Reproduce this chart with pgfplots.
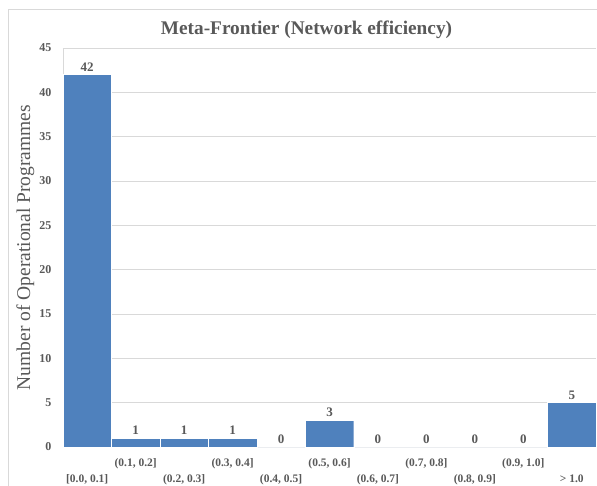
\documentclass[border=0pt]{standalone}
\usepackage{pgfplots}
\pgfplotsset{compat=1.18}
\usepackage{fontspec}
\setmainfont{Liberation Serif}
\definecolor{barblue}{RGB}{79,129,189}
\definecolor{txtgray}{RGB}{89,89,89}
\definecolor{gridgray}{RGB}{217,217,217}
\newcommand{\up}[1]{\rule{0pt}{9pt}#1}
\newcommand{\dn}[1]{\rule{0pt}{25pt}#1}
\begin{document}
\begin{tikzpicture}
\useasboundingbox (-63pt,-38pt) rectangle (534pt,447pt);
\fill[white] (-63pt,-38pt) rectangle (534pt,447pt);
\draw[gridgray,line width=0.8pt] (-55pt,-45pt) -- (-55pt,438pt) -- (545pt,438pt);
\begin{axis}[
  at={(0pt,0pt)}, anchor=south west,
  scale only axis, width=533pt, height=399pt,
  ybar, bar width=48.45pt, bar shift=0pt,
  xmin=-0.5, xmax=10.5, ymin=0, ymax=45,
  ytick={0,5,...,45},
  xtick={0,...,10},
  xticklabels={{\dn{[0.0, 0.1]}},{\up{(0.1, 0.2]}},{\dn{(0.2, 0.3]}},{\up{(0.3, 0.4]}},{\dn{(0.4, 0.5]}},{\up{(0.5, 0.6]}},{\dn{(0.6, 0.7]}},{\up{(0.7, 0.8]}},{\dn{(0.8, 0.9]}},{\up{(0.9, 1.0]}},{\dn{> 1.0}}},
  xticklabel style={font=\fontsize{11.5}{12}\selectfont\bfseries, text=txtgray, anchor=north, yshift=-10pt, inner sep=0pt},
  yticklabel style={font=\fontsize{12}{13}\selectfont\bfseries, text=txtgray, xshift=-8pt},
  /pgf/number format/assume math mode=true,
  major tick length=0pt,
  ymajorgrids, grid style={gridgray, line width=0.8pt},
  axis x line*=bottom, axis y line*=left,
  axis line style={gridgray, line width=0.8pt},
  title={Meta-Frontier (Network efficiency)},
  title style={font=\fontsize{19.3}{21}\selectfont\bfseries, text=txtgray, at={(0.5,1)}, xshift=-23pt, yshift=0pt, anchor=south},
  ylabel={Number of Operational Programmes},
  ylabel style={font=\fontsize{19.5}{21}\selectfont, text=txtgray, at={(-0.047,0.5)}, anchor=south},
  nodes near coords,
  nodes near coords style={font=\fontsize{13}{14}\selectfont\bfseries, text=txtgray, anchor=south, yshift=0pt},
  clip=false,
]
\addplot[fill=barblue, draw=white, line width=0.4pt] coordinates {(0,42) (1,1) (2,1) (3,1) (4,0) (5,3) (6,0) (7,0) (8,0) (9,0) (10,5)};
\end{axis}
\end{tikzpicture}
\end{document}
